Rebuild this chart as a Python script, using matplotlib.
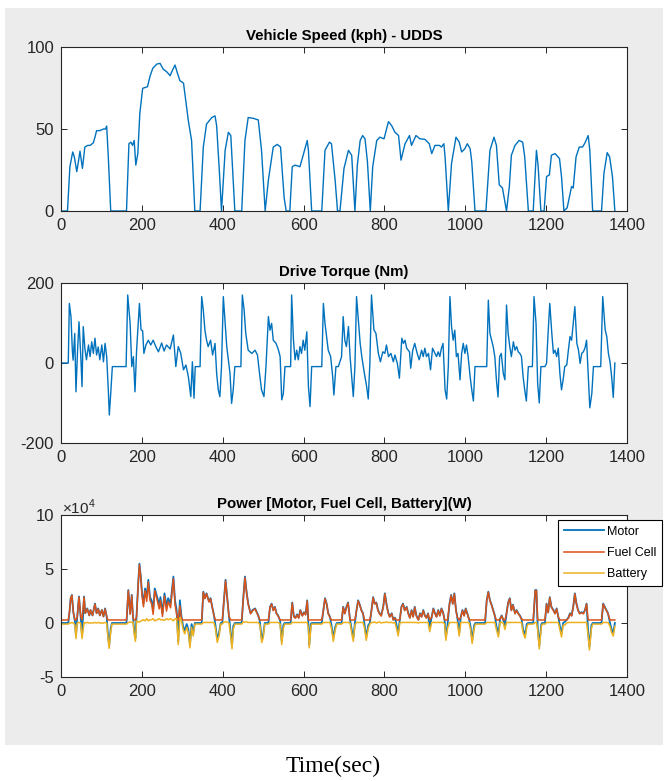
import numpy as np
import matplotlib
matplotlib.use('Agg')
import matplotlib.pyplot as plt
from matplotlib.patches import Rectangle

# ---------------- data ----------------
# vehicle speed, UDDS cycle (kph)
speed_time = [0, 16, 22, 29, 33, 39, 43, 47, 53, 59,
              66, 72, 80, 84, 88, 96, 105, 110, 113, 117,
              123, 162, 168, 173, 177, 181, 185, 190, 195, 202,
              214, 220, 227, 237, 245, 253, 261, 270, 276, 282,
              288, 294, 303, 315, 323, 331, 344, 352, 360, 373,
              381, 385, 392, 397, 406, 414, 420, 426, 430, 447,
              455, 463, 476, 488, 496, 505, 513, 525, 535, 543,
              552, 557, 566, 572, 579, 591, 599, 609, 612, 620,
              645, 653, 664, 669, 678, 684, 690, 700, 711, 719,
              727, 733, 740, 746, 752, 758, 765, 771, 781, 789,
              799, 810, 818, 826, 835, 841, 851, 862, 867, 878,
              888, 900, 911, 917, 925, 936, 941, 947, 950, 958,
              966, 977, 985, 991, 999, 1005, 1012, 1016, 1024, 1051,
              1061, 1071, 1077, 1084, 1092, 1102, 1109, 1114, 1123, 1133,
              1142, 1147, 1156, 1168, 1176, 1180, 1187, 1195, 1201, 1208,
              1213, 1222, 1233, 1238, 1244, 1252, 1257, 1263, 1267, 1274,
              1282, 1290, 1296, 1304, 1308, 1315, 1337, 1343, 1351, 1357,
              1364, 1370]
speed_kph = [0, 0, 27, 36, 33, 24, 30, 36.5, 26, 39,
             40, 40, 41.6, 45, 49, 49, 50, 50, 51.8, 33,
             0, 0, 41, 42, 40, 43, 28, 35, 59.6, 74.8,
             75.8, 82, 87, 89.6, 90, 86.4, 85, 82.5, 86, 89,
             84, 79.5, 78, 55, 43, 0, 0, 39, 53, 57,
             58, 52, 23, 0, 37, 48, 46, 19, 0, 0,
             43, 57, 56.5, 55.5, 37, 0, 19, 39, 40.6, 39,
             8, 0, 0, 27, 28, 27, 34, 43, 37, 0,
             0, 37, 42, 41, 19, 0, 0, 26, 37, 34,
             0, 28, 43, 46, 44, 30, 0, 27, 43, 45,
             44, 54.5, 52, 48, 46, 31, 41, 46, 40, 46,
             44, 43.7, 41, 35, 40, 40, 39, 41, 33, 0,
             29, 45, 42, 36, 38, 41, 38, 30, 0, 0,
             37, 45, 40, 16, 14, 0, 15, 34, 40, 43,
             42, 33, 0, 0, 37, 28, 0, 0, 21, 22,
             34, 35, 32, 21, 0, 2, 8, 15, 14, 33,
             39, 39, 41.5, 46, 37, 0, 0, 23, 35.6, 33,
             21, 0]

# drive torque (Nm)
torque_time = [0, 18, 20.6, 24.7, 28, 30, 34, 37, 41, 44.5,
               49, 52, 55, 59, 63, 68, 72, 76, 80, 84,
               88, 92, 96, 101, 105, 109, 113, 117, 119.5, 123,
               127, 161, 165, 171, 175, 179, 183, 187, 194, 198,
               202, 205, 210, 216, 222, 228, 235, 241, 249, 255,
               261, 270, 278, 284, 290, 296, 303, 309, 315, 321,
               325, 329, 332, 344, 348, 352, 356, 360, 364, 370,
               375, 381, 385, 389, 393, 397, 401.5, 406, 410, 414,
               418, 422, 426, 430, 445, 448.5, 453, 457, 463, 472,
               480, 486, 491, 496, 502, 507, 513, 517, 521, 525,
               532, 538, 542, 546, 550, 554, 568, 570.5, 575, 579,
               583, 587, 591, 595, 599, 603, 608, 612, 616, 620,
               645, 649, 653, 657, 661, 667, 672, 675, 680, 686,
               694, 698, 702, 706, 711, 715, 719, 723, 727, 731,
               736, 740, 744, 749, 756, 760, 764, 768, 774, 779,
               785, 790, 796, 801, 805, 810, 816, 822, 826, 832,
               837, 843, 847, 851, 855, 862, 865, 870, 875, 881,
               886, 892, 896, 900, 904, 909, 914, 919, 925, 929,
               933, 937, 941, 945, 950, 954, 958, 962, 966, 970,
               974, 978, 982, 987, 991, 995, 999, 1003, 1007, 1012,
               1016, 1020, 1024, 1053, 1057, 1061, 1065, 1069, 1073, 1077,
               1081, 1085, 1089, 1094, 1098, 1102, 1106, 1110, 1114, 1119,
               1123, 1127, 1131, 1135, 1139, 1143, 1147, 1151, 1156, 1166,
               1170, 1175, 1179, 1183, 1187, 1197, 1201, 1205, 1209, 1214,
               1218, 1222, 1226, 1230, 1234, 1238, 1242, 1246, 1251, 1255,
               1259, 1263, 1267, 1271, 1276, 1280, 1284, 1288, 1292, 1296,
               1300, 1304, 1308, 1313, 1317, 1335, 1340, 1346, 1350, 1354,
               1358, 1362, 1366, 1370]
torque_nm = [0, 0, 149, 116, 32, 7, 74, -72, 32, 103,
             16, -59, 91, 37, 8, 45, 16, 53, 24, 62,
             20, 40, 8, 45, 3, 49, 16, -67, -130, -76,
             -9, -9, 170, 99, -9, 16, -72, 32, 149, 83,
             80, 24, 45, 57, 45, 57, 40, 28, 50, 30,
             45, 35, 70, -9, 41, 25, -17, -5, -34, -84,
             3, -88, -9, -9, 166, 132, 82, 57, 41, 57,
             20, 49, -26, -67, -84, -9, 166, 99, 41, 8,
             -26, -101, -67, -9, -9, 170, 132, 74, 32, 24,
             32, 20, -26, -67, -84, -9, 116, 82, 99, 57,
             49, 32, 16, -92, -76, -9, -9, 170, 57, 8,
             32, 8, 41, 24, 57, 32, 78, -59, -109, -9,
             -9, 149, 99, 66, 32, 16, -34, -80, -9, -9,
             16, 116, 57, 41, 91, 16, -34, -84, -9, 166,
             100, 49, 16, -17, -59, -90, 0, 170, 83, 74,
             24, 3, 28, 24, 45, 16, 24, 3, 20, -1,
             -38, 62, 49, 57, 37, 28, -13, 32, 49, 24,
             8, 32, 16, 37, 16, 24, -17, 37, 24, 16,
             28, 16, 37, 49, -67, -90, -9, 166, 91, 57,
             82, 16, 24, -42, 24, 49, 24, 45, 16, -34,
             -67, -95, -9, -9, 157, 74, 57, 41, 16, -42,
             -85, 16, 24, -26, -42, 145, 74, 41, 16, 53,
             32, 41, 28, 24, 16, -34, -67, -95, -9, -9,
             166, 99, -51, -100, -9, -9, -1, 78, 149, 74,
             24, 32, 16, 37, -26, -67, -42, -9, -5, 32,
             66, 57, 99, 141, 49, 32, -1, 24, 28, 37,
             57, -26, -112, -76, -9, -9, 166, 83, 66, 24,
             3, -34, -86, 0]

# power traces, in units of 1e4 W
power_time = [0, 18, 21, 24, 27, 30.5, 34.6, 37, 40, 44.5,
              48.6, 52, 57, 60, 65, 70, 73, 78, 84, 88,
              92, 96, 101, 105, 109, 113, 115.5, 119, 123, 126,
              162, 166.5, 171, 175, 178, 181, 184, 187, 191, 194,
              197, 200.5, 204, 208, 212, 216, 220, 224, 228, 232,
              238, 243, 246, 251, 256, 261, 265, 271, 278, 282,
              286, 290, 294, 298, 302, 306, 311, 315, 319, 323,
              327, 331, 348, 352, 356, 360, 366, 370, 374, 378,
              382, 386.5, 391, 395, 399, 403, 407, 411, 415.5, 420,
              423, 426, 430, 447, 451, 455, 459, 463, 469, 474,
              480, 488, 492, 496.5, 500, 504, 513, 517, 521, 525,
              529, 533, 537, 542, 546, 550, 553, 568, 572, 576,
              580, 584, 588, 592, 597, 601, 605, 609, 612, 614,
              618, 620, 645, 649, 653, 657, 661, 665, 669, 673.6,
              678, 682, 694, 698, 702, 706, 710, 715, 719, 723,
              727, 731, 735, 739, 743, 747, 751, 755, 760, 764,
              768, 772, 776, 780, 784, 788, 792, 797, 801, 805,
              809, 813, 818, 822, 826, 830, 834, 838, 842, 846,
              850, 855, 859, 863, 867, 871, 875, 879, 884, 888,
              892, 896, 900, 904, 908, 912, 917, 921, 925, 929,
              933, 937, 941, 945, 949, 952, 956, 961, 965, 969,
              973, 977, 980, 985, 989, 993, 997, 1001, 1005, 1009,
              1013, 1017, 1022, 1025, 1049, 1053, 1057, 1061, 1065, 1069,
              1073, 1077, 1082, 1086, 1090, 1094, 1098, 1102, 1106, 1110,
              1114, 1118, 1123, 1127, 1131, 1135, 1139, 1143, 1148, 1152,
              1155, 1168, 1173, 1176, 1179, 1183, 1188, 1190, 1197, 1201,
              1205, 1209, 1213, 1218, 1222, 1226, 1230, 1234, 1238, 1242,
              1246, 1251, 1255, 1259, 1263, 1267, 1271, 1275, 1279, 1283,
              1288, 1292, 1296, 1300, 1304, 1307, 1312, 1315, 1337, 1341,
              1345, 1349, 1353, 1358, 1362, 1366, 1370]
motor_power = [0.0, 0.0, 1.0, 2.3, 2.6, 1.0, 0.1, -1.2, 0.5, 2.45,
               0.6, -1.2, 2.45, 0.9, 1.35, 0.7, 1.2, 0.7, 1.8, 0.9,
               1.35, 0.7, 1.2, 0.6, 1.35, 0.6, -0.8, -2.1, -0.5, 0.0,
               0.0, 3.05, 0.9, 2.6, 0.6, -0.7, -1.4, 0.8, 3.7, 5.5,
               4.45, 2.75, 1.8, 3.2, 2.4, 4.0, 2.4, 2.1, 1.2, 3.2,
               2.4, 1.7, 2.4, 0.9, 2.75, 1.5, 2.3, 1.8, 4.3, 2.1,
               1.2, -1.7, 2.1, 0.6, -0.3, -0.7, -0.1, -0.6, -2.0, -0.1,
               -0.9, 0.0, 0.0, 2.9, 2.3, 2.75, 2.0, 2.3, 1.5, 0.8,
               -0.2, -1.5, -0.9, 0.0, 0.0, 2.1, 4.0, 2.4, 0.6, -1.0,
               -2.1, -0.3, 0.0, 0.0, 2.4, 4.3, 2.9, 1.8, 0.9, 1.2,
               1.35, 0.7, 0.1, -1.5, -1.1, 0.0, 0.0, 1.5, 1.8, 1.2,
               1.5, 0.9, 0.7, 0.2, -1.7, -0.2, 0.0, 0.0, 1.9, 0.6,
               0.5, 0.8, 0.5, 1.2, 0.7, 1.0, 0.8, 2.1, -0.2, -2.0,
               -0.1, 0.0, 0.0, 1.2, 2.3, 1.8, 0.9, 0.6, -0.2, -1.4,
               -0.4, 0.0, 0.0, 1.5, 0.9, 1.5, 1.9, 0.3, -0.6, -1.4,
               0.0, 1.2, 2.1, 1.7, 1.2, 0.9, -0.2, -1.3, -0.2, 0.0,
               1.2, 2.4, 1.8, 1.9, 1.2, 0.9, 0.7, 1.5, 2.75, 1.8,
               1.0, 0.6, 0.9, 0.3, 0.5, -0.2, -0.9, 0.3, 1.5, 1.8,
               1.2, 1.5, 0.9, 0.5, 1.2, 0.6, 1.5, 0.7, 0.3, 0.9,
               0.6, 1.2, 0.7, 0.5, 0.9, -0.5, 0.6, 1.35, 0.9, 0.6,
               1.2, 0.7, 1.35, 1.0, 0.2, -1.3, -0.2, 1.8, 2.6, 1.8,
               2.75, 1.2, 0.6, -0.9, 0.6, 1.2, 0.7, 1.35, 0.9, 0.4,
               -0.3, -1.6, -0.2, 0.0, 0.0, 2.1, 2.9, 2.1, 1.7, 1.2,
               0.7, -0.3, -1.0, 0.4, 0.7, 0.3, -0.3, 0.9, 1.9, 2.3,
               1.2, 1.7, 0.9, 1.2, 0.9, 0.7, 0.4, -0.6, -1.1, -0.1,
               0.0, 0.0, 3.05, 3.05, -0.3, -2.1, -0.1, 0.0, 0.0, 1.8,
               1.0, 2.4, 1.5, 1.2, 0.9, 1.35, 0.6, -0.3, -1.0, 0.0,
               0.1, 0.3, 0.5, 0.9, 0.7, 1.5, 2.75, 1.8, 1.2, 0.9,
               1.0, 0.9, 1.2, 1.8, -0.9, -2.2, -0.2, 0.0, 0.0, 1.8,
               1.5, 1.2, 0.9, 0.0, -0.6, -0.9, 0.0]
fuel_cell_power = [0.28, 0.28, 1.0, 2.3, 2.55, 1.0, 0.28, 0.28, 0.5, 2.4,
                   0.6, 0.28, 2.4, 0.9, 1.3, 0.7, 1.2, 0.7, 1.75, 0.9,
                   1.3, 0.7, 1.2, 0.6, 1.3, 0.6, 0.28, 0.28, 0.28, 0.28,
                   0.28, 3.0, 0.8, 2.55, 0.5, 0.28, 0.28, 0.6, 3.6, 5.4,
                   4.3, 2.5, 1.5, 3.0, 2.0, 3.8, 2.1, 1.8, 0.8, 3.0,
                   2.1, 1.3, 2.1, 0.6, 2.5, 1.1, 2.0, 1.4, 4.1, 1.7,
                   0.8, 0.28, 1.6, 0.4, 0.28, 0.28, 0.28, 0.28, 0.28, 0.28,
                   0.28, 0.28, 0.28, 2.85, 2.25, 2.7, 1.95, 2.25, 1.45, 0.75,
                   0.28, 0.28, 0.28, 0.28, 0.28, 2.0, 3.9, 2.3, 0.6, 0.28,
                   0.28, 0.28, 0.28, 0.28, 2.3, 4.2, 2.8, 1.75, 0.85, 1.15,
                   1.3, 0.65, 0.28, 0.28, 0.28, 0.28, 0.28, 1.45, 1.75, 1.15,
                   1.45, 0.85, 0.65, 0.28, 0.28, 0.28, 0.28, 0.28, 1.85, 0.55,
                   0.45, 0.75, 0.45, 1.15, 0.65, 0.95, 0.75, 2.05, 0.28, 0.28,
                   0.28, 0.28, 0.28, 1.15, 2.25, 1.75, 0.85, 0.55, 0.28, 0.28,
                   0.28, 0.28, 0.28, 1.45, 0.85, 1.45, 1.85, 0.28, 0.28, 0.28,
                   0.28, 1.15, 2.05, 1.65, 1.15, 0.85, 0.28, 0.28, 0.28, 0.28,
                   1.15, 2.35, 1.75, 1.85, 1.15, 0.85, 0.65, 1.45, 2.7, 1.75,
                   0.95, 0.55, 0.85, 0.28, 0.45, 0.28, 0.28, 0.28, 1.45, 1.75,
                   1.15, 1.45, 0.85, 0.45, 1.15, 0.55, 1.45, 0.65, 0.28, 0.85,
                   0.55, 1.15, 0.65, 0.45, 0.85, 0.28, 0.55, 1.3, 0.85, 0.55,
                   1.15, 0.65, 1.3, 0.95, 0.28, 0.28, 0.28, 1.75, 2.55, 1.75,
                   2.7, 1.15, 0.55, 0.28, 0.55, 1.15, 0.65, 1.3, 0.85, 0.35,
                   0.28, 0.28, 0.28, 0.28, 0.28, 2.05, 2.85, 2.05, 1.65, 1.15,
                   0.65, 0.28, 0.28, 0.35, 0.65, 0.28, 0.28, 0.85, 1.85, 2.25,
                   1.15, 1.65, 0.85, 1.15, 0.85, 0.65, 0.35, 0.28, 0.28, 0.28,
                   0.28, 0.28, 3.0, 3.0, 0.28, 0.28, 0.28, 0.28, 0.28, 1.75,
                   0.95, 2.35, 1.45, 1.15, 0.85, 1.3, 0.55, 0.28, 0.28, 0.28,
                   0.28, 0.28, 0.45, 0.85, 0.65, 1.45, 2.7, 1.75, 1.15, 0.85,
                   0.95, 0.85, 1.15, 1.75, 0.28, 0.28, 0.28, 0.28, 0.28, 1.75,
                   1.45, 1.15, 0.85, 0.28, 0.28, 0.28, 0.28]
battery_power = [-0.1, -0.1, 0.0, 0.0, 0.05, 0.0, -0.2, -1.45, 0.0, 0.05,
                 0.0, -1.45, 0.05, 0.0, 0.05, 0.0, 0.0, 0.0, 0.05, 0.0,
                 0.05, 0.0, 0.0, 0.0, 0.05, 0.0, -1.1, -2.35, -0.8, -0.1,
                 -0.1, 0.05, 0.1, 0.05, 0.1, -1.0, -1.7, 0.2, 0.1, 0.1,
                 0.15, 0.25, 0.3, 0.2, 0.4, 0.2, 0.3, 0.3, 0.4, 0.2,
                 0.3, 0.4, 0.3, 0.3, 0.25, 0.4, 0.3, 0.4, 0.2, 0.4,
                 0.4, -2.0, 0.5, 0.2, -0.6, -1.0, -0.4, -0.9, -2.3, -0.4,
                 -1.2, -0.1, -0.1, 0.05, 0.05, 0.05, 0.05, 0.05, 0.05, 0.05,
                 -0.5, -1.8, -1.2, -0.1, -0.1, 0.1, 0.1, 0.1, 0.0, -1.3,
                 -2.4, -0.6, -0.1, -0.1, 0.1, 0.1, 0.1, 0.05, 0.05, 0.05,
                 0.05, 0.05, -0.2, -1.8, -1.4, -0.1, -0.1, 0.05, 0.05, 0.05,
                 0.05, 0.05, 0.05, -0.1, -2.0, -0.5, -0.1, -0.1, 0.05, 0.05,
                 0.05, 0.05, 0.05, 0.05, 0.05, 0.05, 0.05, 0.05, -0.5, -2.3,
                 -0.4, -0.1, -0.1, 0.05, 0.05, 0.05, 0.05, 0.05, -0.5, -1.7,
                 -0.7, -0.1, -0.1, 0.05, 0.05, 0.05, 0.05, 0.0, -0.9, -1.7,
                 -0.2, 0.05, 0.05, 0.05, 0.05, 0.05, -0.5, -1.6, -0.5, -0.1,
                 0.05, 0.05, 0.1, 0.0, 0.05, 0.1, 0.0, 0.05, 0.05, 0.1,
                 0.05, 0.05, 0.05, 0.0, 0.05, -0.5, -1.2, 0.0, 0.05, 0.05,
                 0.05, 0.05, 0.05, 0.05, 0.05, 0.05, 0.05, 0.05, 0.0, 0.05,
                 0.05, 0.05, 0.05, 0.05, 0.05, -0.8, 0.05, 0.05, 0.05, 0.05,
                 0.05, 0.05, 0.05, 0.05, -0.1, -1.6, -0.5, 0.05, 0.05, 0.05,
                 0.05, 0.05, 0.05, -1.2, 0.05, 0.05, 0.05, 0.05, 0.05, 0.05,
                 -0.6, -1.9, -0.5, -0.1, -0.1, 0.05, 0.05, 0.05, 0.05, 0.05,
                 0.05, -0.6, -1.3, 0.05, 0.05, 0.0, -0.6, 0.05, 0.05, 0.05,
                 0.05, 0.05, 0.05, 0.05, 0.05, 0.05, 0.05, -0.9, -1.4, -0.4,
                 -0.1, -0.1, 0.05, 0.05, -0.6, -2.4, -0.4, -0.1, -0.1, 0.05,
                 0.05, 0.05, 0.05, 0.05, 0.05, 0.05, 0.05, -0.6, -1.3, -0.2,
                 -0.2, 0.0, 0.05, 0.05, 0.05, 0.05, 0.05, 0.05, 0.05, 0.05,
                 0.05, 0.05, 0.05, 0.05, -1.2, -2.5, -0.5, -0.1, -0.1, 0.05,
                 0.05, 0.05, 0.05, -0.3, -0.9, -1.2, -0.3]

xticks = [0, 200, 400, 600, 800, 1000, 1200, 1400]

# MATLAB default line colours
C_BLUE = '#0072BD'
C_ORANGE = '#D95319'
C_YELLOW = '#EDB120'

FIG_W, FIG_H = 667, 781


def px_axes(fig, left, top, right, bottom):
    """add an axes from pixel coordinates (origin top-left)"""
    return fig.add_axes([left / FIG_W, 1 - bottom / FIG_H,
                         (right - left) / FIG_W, (bottom - top) / FIG_H])


def matlab_style(ax, yticks, ylim):
    """box, inward ticks on every side, like a MATLAB axes"""
    ax.set_xlim(0, 1400)
    ax.set_ylim(*ylim)
    ax.set_xticks(xticks)
    ax.set_yticks(yticks)
    ax.tick_params(direction='in', top=True, right=True, length=4,
                   width=0.7, colors='#262626', labelsize=12, pad=5)
    for s in ax.spines.values():
        s.set_color('#262626')
        s.set_linewidth(0.8)


def main():
    plt.rcParams['font.family'] = ['Liberation Sans', 'DejaVu Sans']
    plt.rcParams['axes.unicode_minus'] = False
    plt.rcParams['mathtext.fontset'] = 'custom'
    plt.rcParams['mathtext.rm'] = 'Liberation Sans'

    fig = plt.figure(figsize=(FIG_W / 100, FIG_H / 100), dpi=100)
    fig.patch.set_facecolor('white')
    # grey MATLAB figure window
    fig.add_artist(Rectangle((5 / FIG_W, 1 - 745 / FIG_H), 658 / FIG_W, 737 / FIG_H,
                             transform=fig.transFigure, facecolor='#ececec',
                             edgecolor='none', zorder=-10))

    # speed
    ax1 = px_axes(fig, 61, 47, 627, 211)
    ax1.plot(speed_time, speed_kph, color=C_BLUE, lw=1.0)
    matlab_style(ax1, [0, 50, 100], (0, 100))
    ax1.set_title('Vehicle Speed (kph) - UDDS', fontsize=10.8, fontweight='bold', pad=5)

    # torque
    ax2 = px_axes(fig, 61, 283, 627, 443)
    ax2.plot(torque_time, torque_nm, color=C_BLUE, lw=1.0)
    matlab_style(ax2, [-200, 0, 200], (-200, 200))
    ax2.set_title('Drive Torque (Nm)', fontsize=10.8, fontweight='bold', pad=5)

    # power, plotted in units of 1e4 W with a MATLAB style exponent label
    ax3 = px_axes(fig, 61, 515, 627, 677)
    ax3.plot(power_time, motor_power, color=C_BLUE, lw=1.3, label='Motor')
    ax3.plot(power_time, fuel_cell_power, color=C_ORANGE, lw=1.1, label='Fuel Cell')
    ax3.plot(power_time, battery_power, color=C_YELLOW, lw=1.1, label='Battery')
    matlab_style(ax3, [-5, 0, 5, 10], (-5, 10))
    ax3.set_title('Power [Motor, Fuel Cell, Battery](W)', fontsize=10.8, fontweight='bold', pad=5)
    fig.text(62 / FIG_W, 1 - 507 / FIG_H, r'$\times 10^{4}$', fontsize=11,
             color='#262626', ha='left', va='center')
    leg = ax3.legend(loc='upper left', bbox_to_anchor=(558 / FIG_W, 1 - 520 / FIG_H),
                     bbox_transform=fig.transFigure, fontsize=9, frameon=True,
                     fancybox=False, edgecolor='black', framealpha=1,
                     handlelength=3.2, handletextpad=0.3, labelspacing=0.75,
                     borderpad=0.45, borderaxespad=0)
    leg.get_frame().set_linewidth(0.8)

    fig.text(333 / FIG_W, 1 - 766 / FIG_H, 'Time(sec)', ha='center', va='center',
             family='Liberation Serif', fontsize=17)

    fig.savefig('out.png', dpi=100)


if __name__ == '__main__':
    main()
